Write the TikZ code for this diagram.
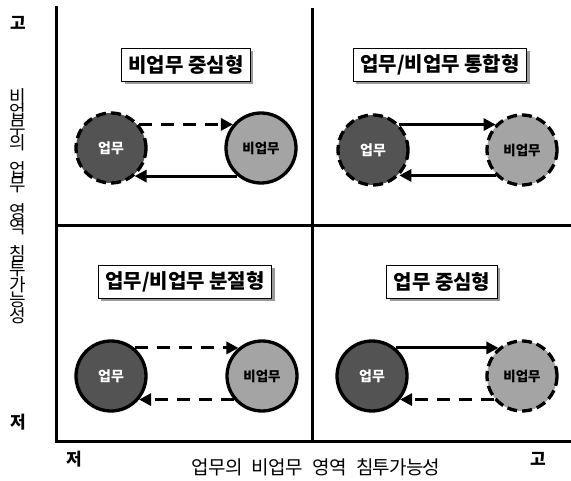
\documentclass[tikz,border=0pt]{standalone}
\usepackage{fontspec}
\newfontfamily\kf{Noto Sans CJK KR}
\newfontfamily\kfn{Noto Sans CJK KR}[LetterSpace=-4]
\usetikzlibrary{arrows.meta,shadows}
\definecolor{darkc}{HTML}{535353}
\definecolor{lightc}{HTML}{A4A4A4}
\begin{document}
\begin{tikzpicture}[x=1pt,y=-1pt,
  axisline/.style={line width=3pt},
  titlebox/.style={draw=black,line width=1.3pt,fill=white,font=\kf\bfseries\fontsize{20}{23}\selectfont,
     minimum height=33pt,inner xsep=7pt,drop shadow={shadow xshift=3pt,shadow yshift=-3pt,fill=gray,opacity=0.8}},
  workc/.style={circle,fill=darkc,draw=black,line width=3.3pt,minimum size=70pt,inner sep=0pt,
     text=white,font=\kf\bfseries\fontsize{14}{16}\selectfont},
  nonc/.style={circle,fill=lightc,draw=black,line width=3.3pt,minimum size=70pt,inner sep=0pt,
     text=black,font=\kf\bfseries\fontsize{13.5}{16}\selectfont},
  dashc/.style={dash pattern=on 10pt off 5pt},
  conn/.style={line width=3pt,-{Triangle[length=12pt,width=12pt]}},
  dconn/.style={conn,dash pattern=on 13pt off 9pt},
  axlab/.style={font=\kf\bfseries\fontsize{17}{19}\selectfont},
  axtxt/.style={font=\kfn\fontsize{19}{21}\selectfont},
  vtxt/.style={font=\kfn\fontsize{18}{21}\selectfont}
]
\useasboundingbox[fill=white] (0,0) rectangle (571,481);
% axes and dividers
\coordinate (tl) at (56,8);
\coordinate (bl) at (56,441);
\coordinate (br) at (571,441);
\coordinate (mt) at (312,8);
\coordinate (mb) at (312,441);
\coordinate (ml) at (56,226);
\coordinate (mr) at (571,226);
\draw[axisline,line cap=rect] (tl) -- (bl) -- (br);
\draw[axisline] (mt) -- (mb);
\draw[axisline] (ml) -- (mr);
% axis labels
\node[axlab] (yhi) at (18,23) {고};
\node[axlab] (ylo) at (18,422) {저};
\node[axlab] (xlo) at (74,459) {저};
\node[axlab] (xhi) at (538,459) {고};
\node[vtxt,align=center,inner sep=0pt] (ylab) at (18,206)
  {비\\[-5.5pt]업\\[-5.5pt]무\\[-5.5pt]의\\[5.5pt]업\\[-5.5pt]무\\[5.5pt]영\\[-5.5pt]역\\[5.5pt]침\\[-5.5pt]투\\[-5.5pt]가\\[-5.5pt]능\\[-5.5pt]성};
\node[axtxt] (xlab) at (316,467) {\spaceskip=0.5em 업무의 비업무 영역 침투가능성};
% Q1
\node[titlebox] (t1) at (186,65) {비업무 중심형};
\node[workc,dashc] (u1) at (111,148) {업무};
\node[nonc] (b1) at (261,148) {비업무};
\draw[dconn] (u1.40) -- (b1.140);
\draw[conn] (b1.-130) -- (u1.-50);
% Q2
\node[titlebox] (t2) at (440,65) {업무/비업무 통합형};
\node[workc,dashc] (u2) at (373,150) {업무};
\node[nonc,dashc] (b2) at (522,150) {비업무};
\draw[conn] (u2.44) -- (b2.136);
\draw[conn] (b2.-136) -- (u2.-44);
% Q3
\node[titlebox] (t3) at (185,282) {업무/비업무 분절형};
\node[workc] (u3) at (111,376) {업무};
\node[nonc] (b3) at (262,376) {비업무};
\draw[dconn] (u3.50) -- (b3.130);
\draw[dconn] (b3.-140) -- (u3.-40);
% Q4
\node[titlebox] (t4) at (442,282) {업무 중심형};
\node[workc] (u4) at (372,376) {업무};
\node[nonc,dashc] (b4) at (522,376) {비업무};
\draw[conn] (u4.50) -- (b4.130);
\draw[dconn] (b4.-140) -- (u4.-40);
\end{tikzpicture}
\end{document}
